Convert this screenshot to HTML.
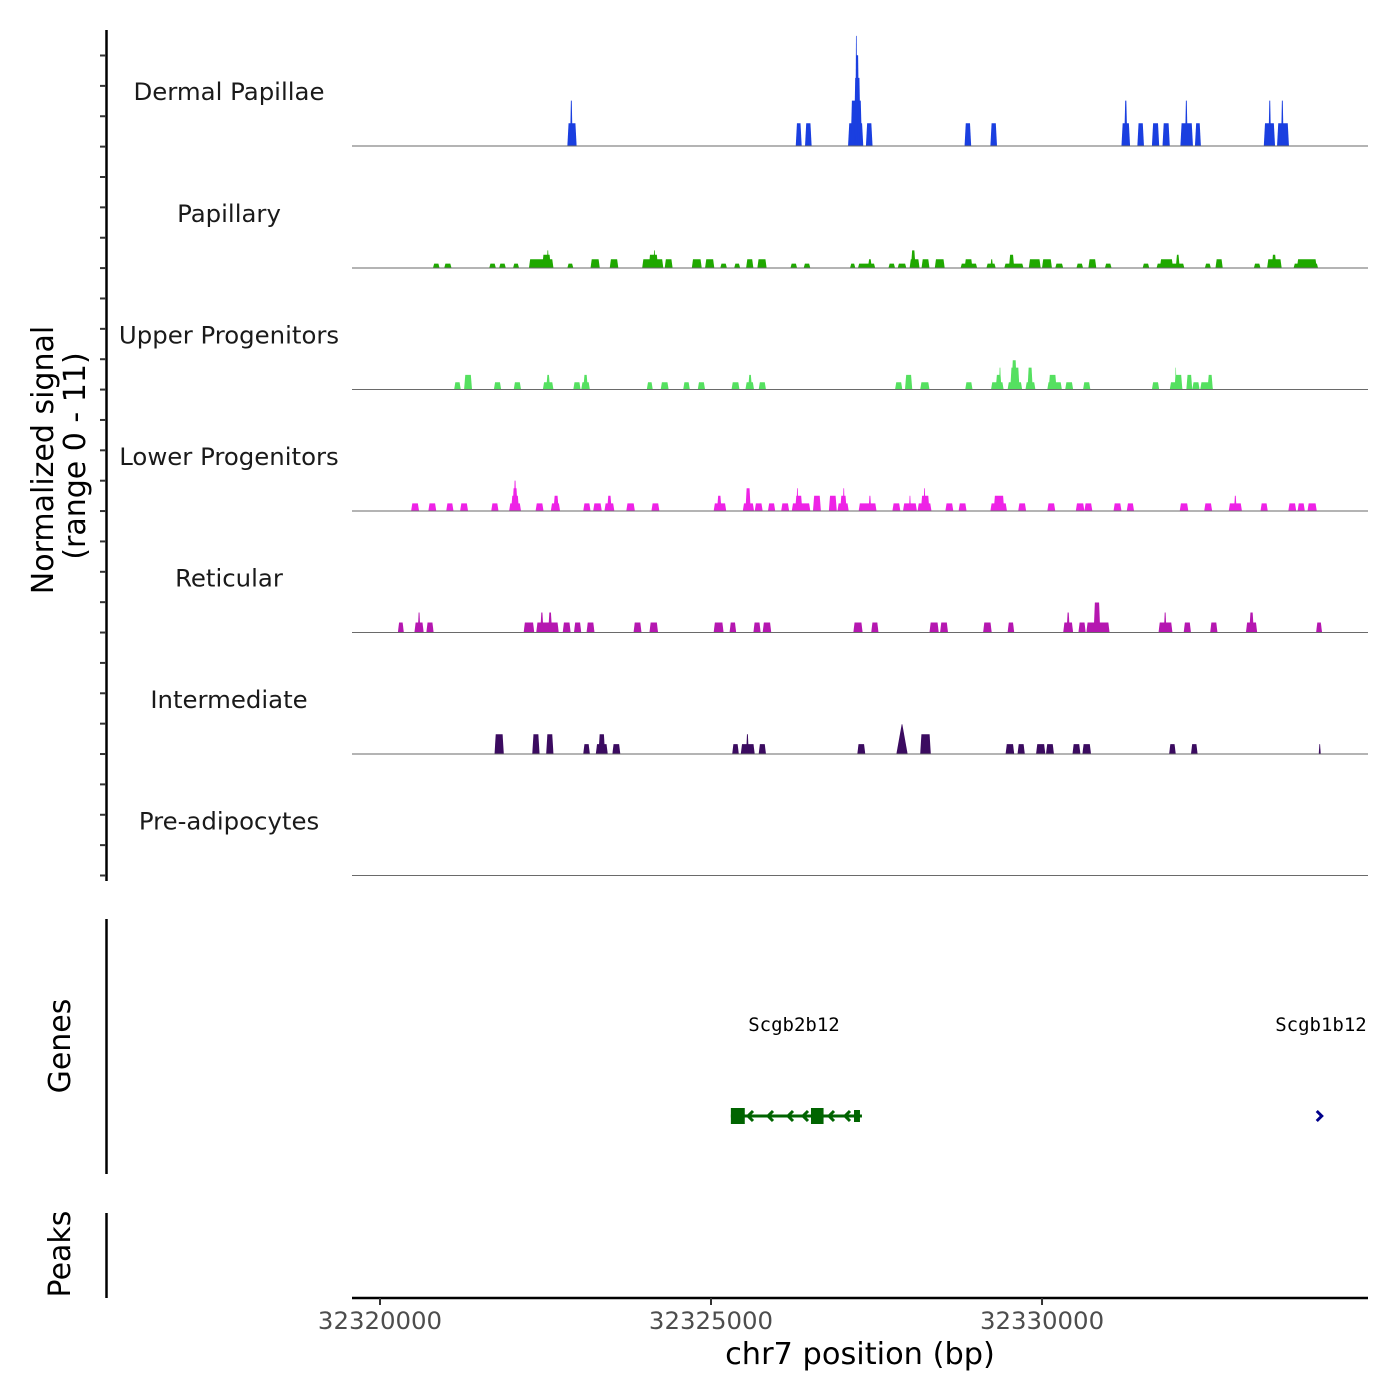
<!DOCTYPE html>
<html><head><meta charset="utf-8">
<style>
html,body{margin:0;padding:0;background:#fff;}
svg{display:block;font-family:"DejaVu Sans","Liberation Sans",sans-serif;}
</style></head>
<body>
<svg id="chart" width="1400" height="1400" viewBox="0 0 1400 1400" xmlns="http://www.w3.org/2000/svg">
<g id="tracks"></g>
<g id="axes"></g>
<g id="genes"></g>
</svg>
<script>
// ---- data ----
const trackNames = ["Dermal Papillae","Papillary","Upper Progenitors","Lower Progenitors","Reticular","Intermediate","Pre-adipocytes"];
const trackColors = ["#1a3fe0","#1fa800","#55e060","#ee22e6","#b517b0","#3b0b60","#888888"];
const xTicks = [32320000,32325000,32330000];
const yMax = 11;
// peaks per track: [startOffsetZ, endOffsetZ, level] (position bp = 32319400 + 10*z)
const dpPeaks = [[343,357,1],[347,351,2],[688,697,1],[702,712,1],[767,790,1],[771,788,2],[776,786,3],[778,784,4],[778,781,4.85],[794,804,1],[943,953,1],[982,992,1],[1180,1193,1],[1184,1189,2],[1204,1214,1],[1226,1237,1],[1242,1253,1],[1269,1288,1],[1276,1280,2],[1291,1300,1],[1395,1412,1],[1402,1406,2],[1415,1433,1],[1421,1425,2]];
const papPeaks = [[140,150,1],[157,168,1],[225,235,1],[240,250,1],[261,270,1],[285,322,2],[305,318,3],[312,315,4],[343,352,1],[378,392,2],[407,420,2],[456,488,2],[466,480,3],[473,476,4],[490,502,2],[531,546,2],[551,565,2],[574,584,1],[595,604,1],[613,624,2],[630,644,2],[680,690,1],[700,710,1],[770,778,1],[782,808,1],[797,803,2],[828,838,1],[842,855,1],[860,875,2],[862,869,4],[878,890,2],[898,913,2],[937,962,1],[943,955,2],[976,990,1],[982,986,2],[1003,1032,1],[1010,1018,3],[1040,1058,2],[1060,1075,2],[1080,1092,1],[1112,1122,1],[1130,1142,2],[1155,1165,1],[1212,1222,1],[1233,1275,1],[1238,1258,2],[1262,1268,3],[1306,1315,1],[1322,1333,2],[1380,1390,1],[1400,1422,2],[1407,1414,3],[1440,1477,1],[1445,1475,2]];
const upPeaks = [[172,182,1],[187,199,2],[232,243,1],[262,273,1],[306,322,1],[311,317,2],[352,363,1],[364,377,1],[367,374,2],[463,472,1],[484,496,1],[518,528,1],[540,551,1],[591,603,1],[612,625,1],[616,622,2],[632,643,1],[838,849,1],[853,864,2],[876,890,1],[944,955,1],[983,1002,1],[990,999,2],[995,998,3],[1008,1030,1],[1012,1026,3],[1014,1022,4],[1035,1050,1],[1038,1046,3],[1068,1090,1],[1070,1082,2],[1095,1107,1],[1122,1133,1],[1226,1237,1],[1253,1272,1],[1260,1272,2],[1261,1263,3],[1278,1287,2],[1287,1298,1],[1299,1318,1],[1310,1318,2]];
const lpPeaks = [[107,119,1],[133,145,1],[160,171,1],[181,193,1],[228,239,1],[255,273,1],[258,270,2],[260,268,3],[262,266,4],[295,307,1],[318,332,1],[322,330,2],[367,378,1],[382,395,1],[399,414,1],[403,410,2],[432,445,1],[470,482,1],[564,583,1],[569,576,2],[608,625,1],[612,620,3],[626,638,1],[646,657,1],[666,678,1],[682,710,1],[687,698,2],[689,692,3],[714,726,2],[738,750,2],[751,768,1],[755,765,2],[759,762,3],[783,810,1],[798,802,2],[834,846,1],[850,871,1],[859,862,2],[872,893,1],[877,890,2],[881,884,3],[914,926,1],[934,946,1],[982,1007,1],[987,1003,2],[1024,1036,1],[1068,1080,1],[1111,1124,1],[1124,1136,1],[1168,1180,1],[1188,1199,1],[1268,1281,1],[1305,1317,1],[1342,1362,1],[1350,1354,2],[1390,1401,1],[1432,1444,1],[1446,1457,1],[1461,1475,1]];
const retPeaks = [[87,96,1],[112,126,1],[117,121,2],[130,141,1],[277,293,1],[296,330,1],[302,307,2],[314,320,2],[336,348,1],[353,364,1],[372,384,1],[443,455,1],[467,480,1],[564,579,1],[588,598,1],[624,635,1],[638,651,1],[775,789,1],[802,813,1],[890,904,1],[906,918,1],[971,984,1],[1008,1018,1],[1092,1107,1],[1097,1102,2],[1115,1126,1],[1127,1162,1],[1138,1148,3],[1236,1257,1],[1244,1248,2],[1274,1285,1],[1314,1325,1],[1368,1385,1],[1373,1380,2],[1474,1483,1]];
const intPeaks = [[233,247,2],[290,301,2],[311,322,2],[367,377,1],[386,404,1],[390,400,2],[411,423,1],[592,602,1],[605,626,1],[613,617,2],[632,643,1],[781,793,1],[840,857,3],[876,892,2],[1005,1018,1],[1023,1034,1],[1051,1065,1],[1066,1078,1],[1106,1118,1],[1121,1134,1],[1252,1262,1],[1285,1295,1],[1478,1481,1]];
const prePeaks = [];
const levelValues = [2.27,0.44,0.73,0.76,1.0,0.99,1.0];
const allPeaks = [dpPeaks,papPeaks,upPeaks,lpPeaks,retPeaks,intPeaks,prePeaks];
const genesNames = ["Scgb2b12","Scgb1b12"];
const geneStart = [32325300,32334180];
const geneEnd = [32327280,32334230];
const exonStarts = [32325300,32326510,32327160];
const exonEnds = [32325510,32326700,32327250];

// ---- scales ----
const NS="http://www.w3.org/2000/svg";
const X0=352,X1=1368,BP0=32319577,BP1=32334924;
function xs(bp){return X0+(bp-BP0)/(BP1-BP0)*(X1-X0);}
const baselines=[146,268,389.5,511,632.5,754,875.5];
function ys(v,i){return baselines[i]-v/yMax*110;}
function mk(tag,attrs,parent){const e=document.createElementNS(NS,tag);for(const k in attrs)e.setAttribute(k,attrs[k]);parent.appendChild(e);return e;}
const tracks=document.getElementById('tracks');
const axes=document.getElementById('axes');
const genesG=document.getElementById('genes');

allPeaks.forEach((peaks,i)=>{
  const g=mk('g',{},tracks);
  
  
  peaks.forEach(p=>{
    const a=xs(32319400+10*p[0]),b=xs(32319400+10*p[1]);
    const v=p[2]*levelValues[i];
    const top=ys(v,i),base=baselines[i];
    const s=p[2]>=3&&i===5?(b-a)/2-0.3:Math.min(1.2,(b-a)/3);
    const poly=mk('polygon',{points:`${a},${base} ${a+s},${top} ${b-s},${top} ${b},${base}`,fill:trackColors[i]},g);
    
    
  });
  const bl=mk('line',{x1:X0,x2:X1,y1:baselines[i],y2:baselines[i],stroke:'#6a6a6a','stroke-width':1},g);
  
  
  const t=mk('text',{x:229,y:baselines[i]-46,'text-anchor':'middle','font-size':24.4,fill:'#1a1a1a'},g);
  t.textContent=trackNames[i];
  
  
});

// y axis (signal)
const ya=mk('line',{x1:106.5,x2:106.5,y1:30,y2:881,stroke:'#000','stroke-width':2.5},axes);


for(let k=0;k<28;k++){
  const y=875.5-k*30.37;
  const tk=mk('line',{x1:100,x2:106,y1:y,y2:y,stroke:'#333','stroke-width':2},axes);
  
  
}
const yt=mk('text',{transform:'translate(53,460) rotate(-90)','text-anchor':'middle','font-size':30,fill:'#000'},axes);
yt.textContent='Normalized signal';


const yt2=mk('text',{transform:'translate(85,456) rotate(-90)','text-anchor':'middle','font-size':30,fill:'#000'},axes);
yt2.textContent='(range 0 - 11)';



const ga=mk('line',{x1:106.5,x2:106.5,y1:919,y2:1174,stroke:'#000','stroke-width':2.5},axes);


const gt=mk('text',{transform:'translate(70,1046) rotate(-90)','text-anchor':'middle','font-size':30,fill:'#000'},axes);
gt.textContent='Genes';


const pa=mk('line',{x1:106.5,x2:106.5,y1:1213,y2:1298,stroke:'#000','stroke-width':2.5},axes);


const pt=mk('text',{transform:'translate(70,1254) rotate(-90)','text-anchor':'middle','font-size':30,fill:'#000'},axes);
pt.textContent='Peaks';



// x axis
const xa=mk('line',{x1:X0,x2:X1,y1:1298,y2:1298,stroke:'#000','stroke-width':2.5},axes);


xTicks.forEach(v=>{
  const x=xs(v);
  const tk=mk('line',{x1:x,x2:x,y1:1298,y2:1305,stroke:'#333','stroke-width':2},axes);
  
  
  const tl=mk('text',{x:x,y:1329,'text-anchor':'middle','font-size':24.4,fill:'#4d4d4d'},axes);
  tl.textContent=String(v);
  
  
});
const xt=mk('text',{x:860,y:1364,'text-anchor':'middle','font-size':30.4,fill:'#000'},axes);
xt.textContent='chr7 position (bp)';



// genes
const gy=1116;
const g1=mk('line',{x1:xs(geneStart[0]),x2:xs(geneEnd[0]),y1:gy,y2:gy,stroke:'#006400','stroke-width':3},genesG);


[748,768,788,803,829,845].forEach(x=>{
  const ar=mk('polyline',{points:`${x+5},${gy-5} ${x},${gy} ${x+5},${gy+5}`,fill:'none',stroke:'#006400','stroke-width':3},genesG);
  
  
});
exonStarts.forEach((s,i)=>{
  const a=xs(s),b=xs(exonEnds[i]);
  const h=i<2?16:12;
  const r=mk('rect',{x:a,y:gy-h/2,width:b-a,height:h,fill:'#006400'},genesG);
  
  
});
const gx2=xs(geneStart[1]);
const ar2=mk('polyline',{points:`${gx2-2},${gy-5} ${gx2+3},${gy} ${gx2-2},${gy+5}`,fill:'none',stroke:'#00008b','stroke-width':3},genesG);


[[794,genesNames[0]],[1321,genesNames[1]]].forEach(([x,n])=>{
  const t=mk('text',{x:x,y:1031,'text-anchor':'middle','font-size':19,fill:'#000','font-family':'"DejaVu Sans Mono","Liberation Mono",monospace'},genesG);
  t.textContent=n;
  
  
});
</script>
</body></html>
